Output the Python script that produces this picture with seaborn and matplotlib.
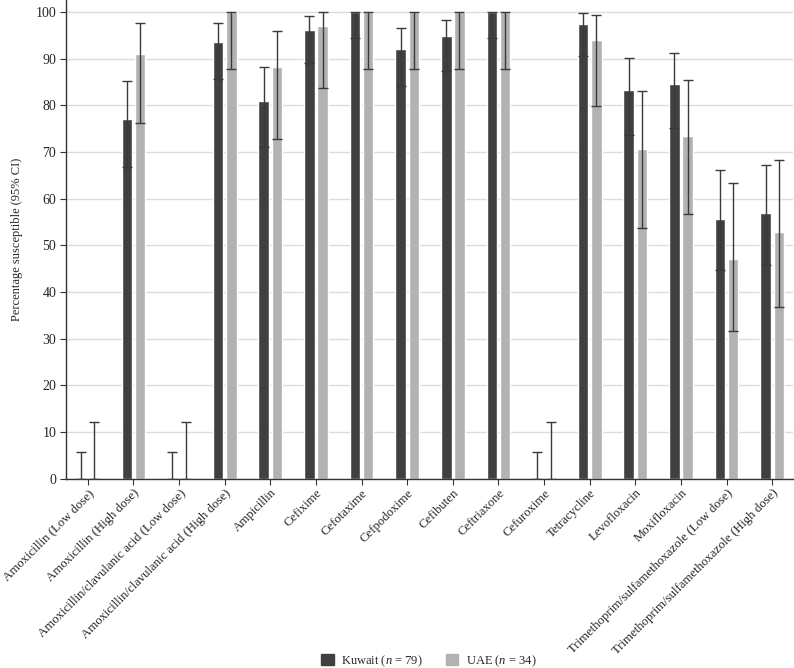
import pandas as pd
import matplotlib
matplotlib.use('Agg')
import matplotlib.pyplot as plt
import seaborn as sns
import numpy as np

# Antimicrobials on the x axis
drugs = ['Amoxicillin (Low dose)', 'Amoxicillin (High dose)',
         'Amoxicillin/clavulanic acid (Low dose)', 'Amoxicillin/clavulanic acid (High dose)',
         'Ampicillin', 'Cefixime', 'Cefotaxime', 'Cefpodoxime', 'Cefibuten',
         'Ceftriaxone', 'Cefuroxime', 'Tetracycline', 'Levofloxacin', 'Moxifloxacin',
         'Trimethoprim/sulfamethoxazole (Low dose)', 'Trimethoprim/sulfamethoxazole (High dose)']

# Percentage susceptible and 95% CI
kuwait_pct = [0, 77.1, 0, 93.6, 80.9, 96.1, 100, 92.2, 94.9, 100, 0, 97.4, 83.4, 84.7, 55.6, 56.9]
kuwait_lo = [0, 66.7, 0, 85.6, 71.0, 89.1, 94.4, 84.1, 87.3, 94.4, 0, 90.6, 73.6, 75.1, 44.7, 45.9]
kuwait_hi = [5.7, 85.2, 5.7, 97.6, 88.2, 99.1, 100, 96.7, 98.3, 100, 5.7, 99.8, 90.1, 91.2, 66.1, 67.3]

uae_pct = [0, 91.1, 0, 100, 88.2, 97.0, 100, 100, 100, 100, 0, 94.1, 70.6, 73.5, 47.1, 52.8]
uae_lo = [0, 76.2, 0, 87.9, 72.9, 83.7, 87.9, 87.9, 87.9, 87.9, 0, 79.9, 53.8, 56.7, 31.6, 36.7]
uae_hi = [12.2, 97.6, 12.2, 100, 95.9, 100, 100, 100, 100, 100, 12.2, 99.4, 83.2, 85.5, 63.4, 68.4]

groups = ['Kuwait ($n$ = 79)', 'UAE ($n$ = 34)']
colors = ['#404040', '#b2b2b2']

df = pd.DataFrame({
    'drug': drugs * 2,
    'group': [groups[0]] * len(drugs) + [groups[1]] * len(drugs),
    'pct': kuwait_pct + uae_pct,
})

sns.set_style('white')
plt.rcParams['font.family'] = ['Liberation Serif', 'DejaVu Serif']
plt.rcParams['mathtext.fontset'] = 'custom'
plt.rcParams['mathtext.rm'] = 'Liberation Serif'
plt.rcParams['mathtext.it'] = 'Liberation Serif:italic'

fig = plt.figure(figsize=(7.94, 6.68), dpi=100)
ax = fig.add_axes([0.083, 0.2834, 0.916, 0.7166])

sns.barplot(data=df, x='drug', y='pct', hue='group', palette=colors,
            width=0.58, gap=0.2, errorbar=None, ax=ax, legend=False, zorder=2)

# Custom 95% CI error bars at the bar centres
for cont, pct, lo, hi in zip(ax.containers, [kuwait_pct, uae_pct],
                             [kuwait_lo, uae_lo], [kuwait_hi, uae_hi]):
    xs = [b.get_x() + b.get_width() / 2 for b in cont]
    pct = np.array(pct)
    yerr = [pct - np.array(lo), np.array(hi) - pct]
    ax.errorbar(xs, pct, yerr=yerr, fmt='none', ecolor='#3a3a3a',
                elinewidth=1, capsize=3.8, capthick=1, zorder=3)

ax.set_xlim(-0.48, 15.46)
ax.set_ylim(0, 102.6)
ax.set_yticks(range(0, 101, 10))
ax.yaxis.grid(True, color='#dcdcdc', linewidth=1, zorder=0)
ax.set_axisbelow(True)
for s in ['top', 'right']:
    ax.spines[s].set_visible(False)
for s in ['left', 'bottom']:
    ax.spines[s].set_color('#333333')
    ax.spines[s].set_linewidth(1)

ax.tick_params(axis='both', which='both', direction='out', length=4, width=0.8,
               color='#333333', bottom=True, left=True)
ax.tick_params(axis='y', labelsize=10, pad=3)
ax.tick_params(axis='x', labelsize=9.2, pad=2)
ax.set_xticks(range(len(drugs)))
ax.set_xticklabels(drugs, rotation=45, ha='right', rotation_mode='anchor')
ax.set_xlabel('')
ax.set_ylabel('Percentage susceptible (95% CI)', fontsize=9, labelpad=9)

handles = [plt.Rectangle((0, 0), 1, 1, color=c) for c in colors]
fig.legend(handles, groups, loc='center', bbox_to_anchor=(0.540, 0.0105), ncol=2,
           frameon=False, fontsize=9, handlelength=1.0, handleheight=1.0,
           columnspacing=1.8, handletextpad=0.6, borderpad=0.1)

fig.savefig('out.png', dpi=100)
plt.close(fig)
